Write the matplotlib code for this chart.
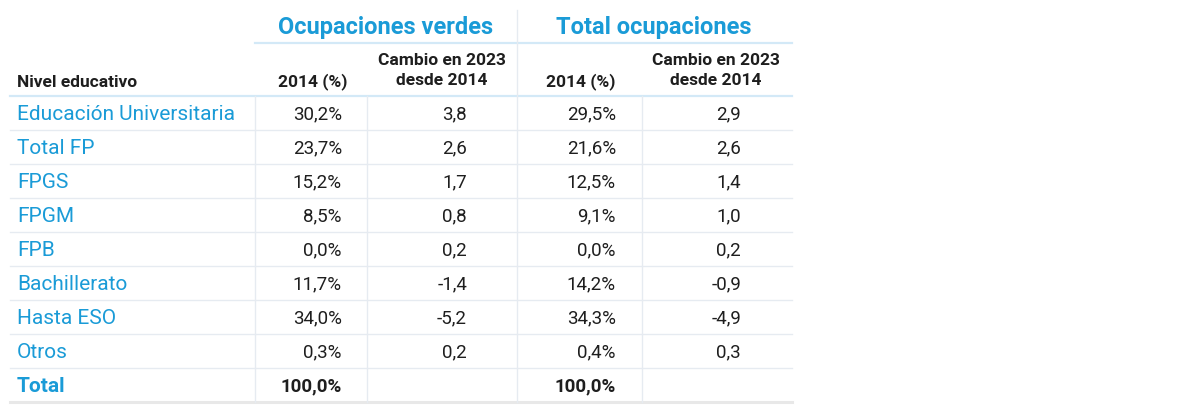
import matplotlib.pyplot as plt

# --- datos de la tabla ---
niveles = ['Educación Universitaria', 'Total FP', 'FPGS', 'FPGM', 'FPB',
           'Bachillerato', 'Hasta ESO', 'Otros', 'Total']
verdes_2014 = ['30,2%', '23,7%', '15,2%', '8,5%', '0,0%', '11,7%', '34,0%', '0,3%', '100,0%']
verdes_cambio = ['3,8', '2,6', '1,7', '0,8', '0,2', '-1,4', '-5,2', '0,2', '']
total_2014 = ['29,5%', '21,6%', '12,5%', '9,1%', '0,0%', '14,2%', '34,3%', '0,4%', '100,0%']
total_cambio = ['2,9', '2,6', '1,4', '1,0', '0,2', '-0,9', '-4,9', '0,3', '']

grupos = ['Ocupaciones verdes', 'Total ocupaciones']
col_header = 'Nivel educativo'
sub_2014 = '2014 (%)'
sub_cambio = ['Cambio en 2023', 'desde 2014']

AZUL = '#1a9bd7'
NEGRO = '#1e1e1e'
LINEA = '#e6ebf1'
LINEA_AZUL = '#d3e9f7'

plt.rcParams['font.family'] = ['Roboto', 'DejaVu Sans']

fig = plt.figure(figsize=(11.8, 4.13), dpi=100)
ax = fig.add_axes([0, 0, 1, 1])
ax.set_xlim(0, 1180)
ax.set_ylim(413, 0)
ax.axis('off')

# geometria (pixeles)
x_left, x_right = 10, 792
x_cols = [255, 367, 517, 642]
y_head = 96
row_h = 34
n = len(niveles)
y_bottom = y_head + n * row_h

# lineas
ax.plot([x_cols[0], x_right], [43, 43], color=LINEA_AZUL, lw=1.6)
ax.plot([x_left, x_right], [y_head, y_head], color=LINEA_AZUL, lw=1.6)
for i in range(1, n):
    y = y_head + i * row_h
    ax.plot([x_left, x_right], [y, y], color=LINEA, lw=1.0)
ax.plot([x_left, x_right], [y_bottom, y_bottom], color='#e8e8e8', lw=2.2)
for xc in x_cols:
    y0 = 10 if xc == 517 else y_head
    ax.plot([xc, xc], [y0, y_bottom], color=LINEA, lw=1.0)

# titulos de grupo
ax.text(386, 34, grupos[0], color=AZUL, fontsize=17, fontweight='bold',
        ha='center', va='baseline')
ax.text(654, 34, grupos[1], color=AZUL, fontsize=17, fontweight='bold',
        ha='center', va='baseline')

# cabecera de columnas
ax.text(17, 87, col_header, color=NEGRO, fontsize=12.5, fontweight='bold',
        ha='left', va='baseline')
for x2014, xcam in [(347, 442), (615, 716)]:
    ax.text(x2014, 86, sub_2014, color=NEGRO, fontsize=12.5, fontweight='bold',
            ha='right', va='baseline')
    ax.text(xcam, 65, sub_cambio[0], color=NEGRO, fontsize=12.5, fontweight='bold',
            ha='center', va='baseline')
    ax.text(xcam, 85, sub_cambio[1], color=NEGRO, fontsize=12.5, fontweight='bold',
            ha='center', va='baseline')

# filas
for i, nivel in enumerate(niveles):
    yc = y_head + row_h * (i + 0.5)
    es_total = nivel == 'Total'
    peso = 'bold' if es_total else 'normal'
    ax.text(17, yc + 7.3, nivel, color=AZUL, fontsize=15, fontweight=peso,
            ha='left', va='baseline')
    yb = yc + 6.3
    ax.text(342, yb, verdes_2014[i], color=NEGRO, fontsize=13.5, fontweight=peso,
            ha='right', va='baseline')
    ax.text(467, yb, verdes_cambio[i], color=NEGRO, fontsize=13.5,
            ha='right', va='baseline')
    ax.text(616, yb, total_2014[i], color=NEGRO, fontsize=13.5, fontweight=peso,
            ha='right', va='baseline')
    ax.text(741, yb, total_cambio[i], color=NEGRO, fontsize=13.5,
            ha='right', va='baseline')

fig.savefig('out.png', dpi=100, facecolor='white')
